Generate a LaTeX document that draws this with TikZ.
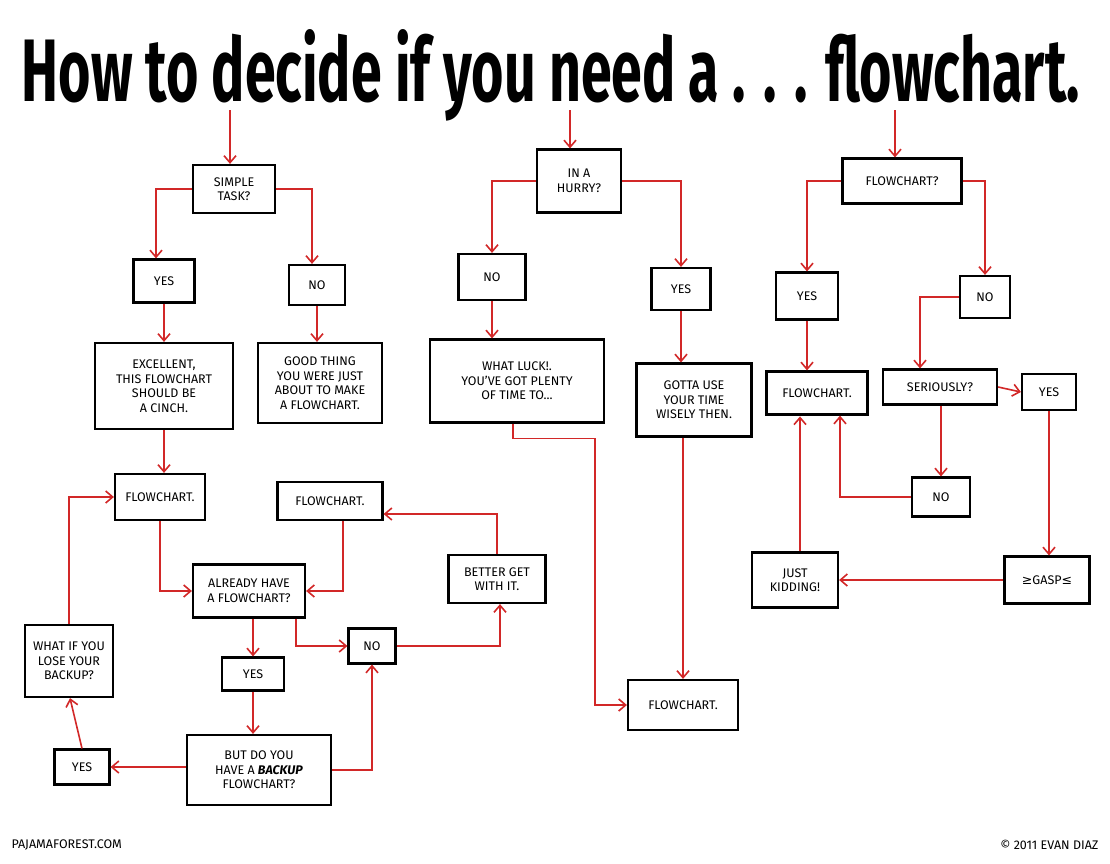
\documentclass[tikz,border=0pt]{standalone}
\usepackage{fontspec}
\setmainfont{Fira Sans}
\newfontfamily\symfont{DejaVu Sans}
\usetikzlibrary{arrows.meta}
\begin{document}
\begin{tikzpicture}[x=1pt,y=-1pt,
  bx/.style={draw=black,line width=2.2pt,align=center,inner sep=0pt,font=\fontsize{12.5}{14.5}\selectfont,text=black},
  ar/.style={draw={rgb,255:red,210;green,40;blue,40},line width=1.6pt,-{Straight Barb[length=7pt,width=12pt]}}]
\useasboundingbox[fill=white] (0,0) rectangle (1110,863);
\node[anchor=center] (title) at (551,75) {\resizebox{1058pt}{72pt}{\bfseries How to decide if you need a . . . flowchart.}};
\node[anchor=west,font=\fontsize{12.5}{14}\selectfont] (ft1) at (8,845) {PAJAMAFOREST.COM};
\node[anchor=east,font=\fontsize{12.5}{14}\selectfont] (ft2) at (1102,845) {© 2011 EVAN DIAZ};
% column 1
\node[bx,minimum width=82,minimum height=48] (t1) at (234,189) {SIMPLE\\TASK?};
\node[bx,minimum width=61,minimum height=43] (y1) at (164,281) {YES};
\node[bx,minimum width=56,minimum height=40] (n1) at (317,285) {NO};
\node[bx,minimum width=138,minimum height=86] (e1) at (164,386) {EXCELLENT,\\THIS FLOWCHART\\SHOULD BE\\A CINCH.};
\node[bx,minimum width=124,minimum height=80] (g1) at (320,383) {GOOD THING\\YOU WERE JUST\\ABOUT TO MAKE\\A FLOWCHART.};
\node[bx,minimum width=90,minimum height=46] (f1) at (160,497) {FLOWCHART.};
\node[bx,minimum width=105,minimum height=38] (f2) at (330,501) {FLOWCHART.};
\node[bx,minimum width=112,minimum height=53] (a1) at (249,591) {ALREADY HAVE\\A FLOWCHART?};
\node[bx,minimum width=97,minimum height=48] (b1) at (497,579) {BETTER GET\\WITH IT.};
\node[bx,minimum width=88,minimum height=72] (w1) at (69,661) {WHAT IF YOU\\LOSE YOUR\\BACKUP?};
\node[bx,minimum width=47,minimum height=35] (no2) at (372,646) {NO};
\node[bx,minimum width=62,minimum height=33] (y2) at (253,674) {YES};
\node[bx,minimum width=144,minimum height=70] (d1) at (259,770) {BUT DO YOU\\HAVE A \textbf{\textit{BACKUP}}\\FLOWCHART?};
\node[bx,minimum width=55,minimum height=35] (y3) at (82,767) {YES};
% column 2
\node[bx,minimum width=84,minimum height=63] (h1) at (579,181) {IN A\\HURRY?};
\node[bx,minimum width=67,minimum height=46] (n3) at (492,277) {NO};
\node[bx,minimum width=59,minimum height=42] (y4) at (681,289) {YES};
\node[bx,minimum width=174,minimum height=83] (wl) at (517,381) {WHAT LUCK!.\\YOU'VE GOT PLENTY\\OF TIME TO...};
\node[bx,minimum width=115,minimum height=73] (gu) at (694,400) {GOTTA USE\\YOUR TIME\\WISELY THEN.};
\node[bx,minimum width=110,minimum height=50] (f3) at (683,705) {FLOWCHART.};
% column 3
\node[bx,minimum width=119,minimum height=45] (fc) at (902,181) {FLOWCHART?};
\node[bx,minimum width=62,minimum height=47] (y5) at (807,296) {YES};
\node[bx,minimum width=50,minimum height=42] (n4) at (985,297) {NO};
\node[bx,minimum width=101,minimum height=43] (f4) at (817,393) {FLOWCHART.};
\node[bx,minimum width=114,minimum height=35] (s1) at (940,387) {SERIOUSLY?};
\node[bx,minimum width=54,minimum height=36] (y6) at (1049,392) {YES};
\node[bx,minimum width=58,minimum height=39] (n5) at (941,497) {NO};
\node[bx,minimum width=86,minimum height=55] (jk) at (795,580) {JUST\\KIDDING!};
\node[bx,minimum width=85,minimum height=47] (gs) at (1047,580) {{\symfont ≥}GASP{\symfont ≤}};
% arrows from title
\coordinate (c1) at (230,110);\coordinate (c2) at (570,110);\coordinate (c3) at (895,110);
\draw[ar] (c1) -- (c1|-t1.north);
\draw[ar] (c2) -- (c2|-h1.north);
\draw[ar] (c3) -- (c3|-fc.north);
% column 1 connectors
\draw[ar] (t1.west) -| ([xshift=-8pt]y1.north);
\draw[ar] (t1.east) -| ([xshift=-5pt]n1.north);
\draw[ar] (y1) -- (e1);
\draw[ar] (n1) -- (n1|-g1.north);
\draw[ar] (e1) -- (e1|-f1.north);
\draw[ar] (f1.south) |- (a1.west);
\draw[ar] ([xshift=13pt]f2.south) |- (a1.east);
\draw[ar] (a1.south-|y2) -- (y2);
\draw[ar] ([xshift=-10pt]a1.south east) |- (no2.west);
\draw[ar] (no2.east) -| ([xshift=3pt]b1.south);
\draw[ar] (b1.north) |- ([yshift=-13pt]f2.east);
\draw[ar] (y2) -- (y2|-d1.north);
\draw[ar] (d1.east) -| (no2.south);
\draw[ar] (d1.west|-y3) -- (y3.east);
\draw[ar] (y3.north) -- ([xshift=1pt]w1.south);
\draw[ar] (w1.north) |- (f1.west);
% column 2
\draw[ar] (h1.west) -| (n3.north);
\draw[ar] (h1.east) -| (y4.north);
\draw[ar] (n3) -- (n3|-wl.north);
\draw[ar] (y4) -- (y4|-gu.north);
\draw[ar] ([xshift=-4pt]wl.south) |- ++(82,15) |- (f3.west);
\draw[ar] (gu.south-|f3) -- (f3.north);
% column 3
\draw[ar] (fc.west) -| (y5.north);
\draw[ar] (fc.east) -| (n4.north);
\draw[ar] (y5) -- (y5|-f4.north);
\draw[ar] (n4.west) -| ([xshift=-20pt]s1.north);
\draw[ar] (s1.east) -- (y6.west);
\draw[ar] (s1.south-|n5) -- (n5.north);
\draw[ar] (n5.west) -| ([xshift=23pt]f4.south);
\draw[ar] (jk.north-|f4.south) ++(-17,0) -- ++(0,-135);
\draw[ar] (y6.south) -- (y6.south|-gs.north);
\draw[ar] (gs.west) -- (jk.east);
\end{tikzpicture}
\end{document}
